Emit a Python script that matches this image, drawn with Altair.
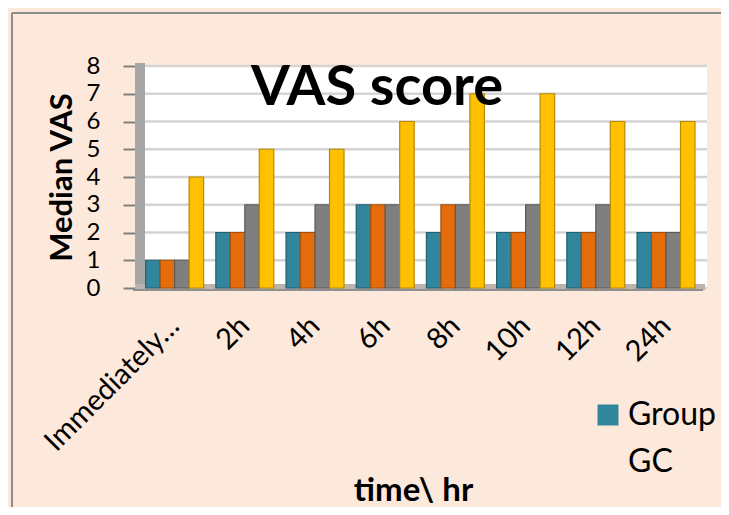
import altair as alt
import pandas as pd

categories = ["Immediately…", "2h", "4h", "6h", "8h", "10h", "12h", "24h"]
series = ["Group", "GC", "Group 3", "Group 4"]
teal_vals = [1, 2, 2, 3, 2, 2, 2, 2]
orange_vals = [1, 2, 2, 3, 3, 2, 2, 2]
gray_vals = [1, 3, 3, 3, 3, 3, 3, 2]
yellow_vals = [4, 5, 5, 6, 7, 7, 6, 6]
colors = ["#31859C", "#E46C0A", "#7F7F7F", "#FFC000"]
edge_colors = ["#22606F", "#A84F07", "#5A5A5A", "#B88A00"]
y_ticks = [0, 1, 2, 3, 4, 5, 6, 7, 8]
legend_labels = ["Group", "GC"]

rows = []
for s, vals in zip(series, [teal_vals, orange_vals, gray_vals, yellow_vals]):
    for c, v in zip(categories, vals):
        rows.append({"time": c, "series": s, "value": v})
df = pd.DataFrame(rows)

W, H = 562, 222
FONT = "Lato"
one = pd.DataFrame({"a": [0]})

yscale = alt.Scale(domain=[0, 8], nice=False)
yaxis = alt.Axis(
    title="Median VAS",
    titleFont=FONT,
    titleFontSize=31,
    titleFontWeight="bold",
    titleColor="black",
    titlePadding=8,
    values=y_ticks,
    labelFont=FONT,
    labelFontSize=24,
    labelColor="black",
    labelPadding=23,
    offset=10,
    tickSize=12,
    tickColor="#808080",
    tickWidth=2,
    domain=False,
    grid=False,
)

grid = alt.Chart(pd.DataFrame({"value": y_ticks})).mark_rule(
    color="#d4d4d4", strokeWidth=2.5
).encode(y=alt.Y("value:Q", scale=yscale, axis=yaxis))

wall = alt.Chart(one).mark_rect(color="#a6a6a6").encode(
    x=alt.value(-10), x2=alt.value(0), y=alt.value(-3), y2=alt.value(H + 2)
)
floor = alt.Chart(one).mark_rect(color="#bdb3ae").encode(
    x=alt.value(-10), x2=alt.value(W - 2), y=alt.value(H - 4), y2=alt.value(H + 2)
)
floor_edge = alt.Chart(one).mark_rule(color="#8f8f8f", strokeWidth=2).encode(
    x=alt.value(-12), x2=alt.value(W - 4), y=alt.value(H + 2)
)

bars = alt.Chart(df).mark_bar(strokeWidth=1.2).encode(
    x=alt.X(
        "time:N",
        sort=categories,
        scale=alt.Scale(domain=categories, paddingInner=0.174, paddingOuter=0.09, align=0.05),
        axis=alt.Axis(
            title="time\\ hr",
            titleFont=FONT,
            titleFontSize=33,
            titleFontWeight="bold",
            titleColor="black",
            titleX=268,
            titleY=212,
            titleAlign="center",
            titleBaseline="alphabetic",
            labelAngle=-45,
            labelAlign="right",
            labelBaseline="middle",
            labelFont=FONT,
            labelFontSize=29,
            labelColor="black",
            labelPadding=33,
            labelLimit=300,
            ticks=False,
            domain=False,
        ),
    ),
    xOffset=alt.XOffset("series:N", sort=series, scale=alt.Scale(domain=series, paddingInner=0, paddingOuter=0)),
    y=alt.Y("value:Q", scale=yscale, axis=yaxis),
    color=alt.Color("series:N", scale=alt.Scale(domain=series, range=colors), legend=None),
    stroke=alt.Stroke("series:N", scale=alt.Scale(domain=series, range=edge_colors), legend=None),
)

title = alt.Chart(one).mark_text(
    font=FONT, fontSize=56, fontWeight="bold", color="black", align="center", baseline="alphabetic"
).encode(x=alt.value(232), y=alt.value(39), text=alt.value("VAS score"))

leg_sq = alt.Chart(one).mark_square(color=colors[0], size=441, opacity=1, filled=True).encode(
    x=alt.value(463), y=alt.value(349)
)
leg_t1 = alt.Chart(one).mark_text(
    font=FONT, fontSize=32, color="black", align="left", baseline="alphabetic"
).encode(x=alt.value(483), y=alt.value(359), text=alt.value(legend_labels[0]))
leg_t2 = alt.Chart(one).mark_text(
    font=FONT, fontSize=32, color="black", align="left", baseline="alphabetic"
).encode(x=alt.value(483), y=alt.value(406), text=alt.value(legend_labels[1]))

frame_left = alt.Chart(one).mark_rule(color="#8c8c8c", strokeWidth=2).encode(
    x=alt.value(-133), y=alt.value(-53), y2=alt.value(460)
)
frame_top = alt.Chart(one).mark_rule(color="#8c8c8c", strokeWidth=2).encode(
    x=alt.value(-133), x2=alt.value(600), y=alt.value(-53)
)

chart = alt.layer(
    grid, wall, floor, floor_edge, bars, title, leg_sq, leg_t1, leg_t2, frame_left, frame_top
).properties(
    width=W,
    height=H,
    autosize=alt.AutoSizeParams(type="none"),
    padding={"left": 137, "top": 58, "right": 14, "bottom": 219},
    background="#FCE9DB",
).configure_view(fill="white", stroke=None)

chart.save("out.html", embed_options={"renderer": "svg", "actions": False})
